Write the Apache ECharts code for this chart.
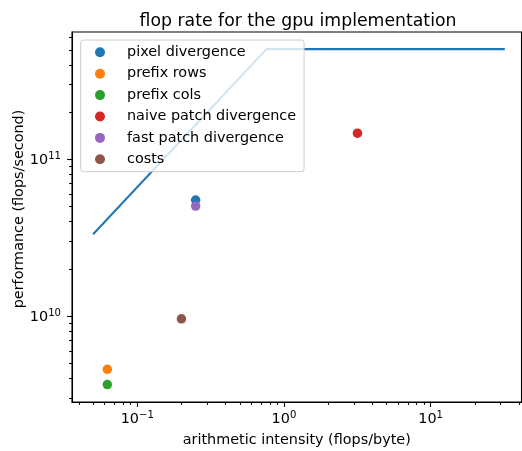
<!DOCTYPE html>
<html>
<head>
<meta charset="utf-8">
<script src="https://cdn.jsdelivr.net/npm/echarts@6/dist/echarts.min.js"></script>
<style>html,body{margin:0;padding:0;background:#fff}#c{width:522px;height:451px}</style>
</head>
<body>
<div id="c"></div>
<script>
// ---- data ----
const seriesNames = ['pixel divergence', 'prefix rows', 'prefix cols', 'naive patch divergence', 'fast patch divergence', 'costs'];
const intensity = [0.25, 0.0625, 0.0625, 3.17, 0.25, 0.2];
const performance = [5.5e10, 4.57e9, 3.65e9, 1.47e11, 5.04e10, 9.6e9];
const colors = ['#1f77b4', '#ff7f0e', '#2ca02c', '#d62728', '#9467bd', '#8c564b'];
const rooflineX = [0.05, 0.76, 32];
const rooflineY = [3.33e10, 5.06e11, 5.06e11];
const xMajorTicks = [0.1, 1, 10];
const xMinorTicks = [0.04, 0.05, 0.06, 0.07, 0.08, 0.09, 0.2, 0.3, 0.4, 0.5, 0.6, 0.7, 0.8, 0.9, 2, 3, 4, 5, 6, 7, 8, 9, 20, 30, 40];
const yMajorTicks = [1e10, 1e11];
const yMinorTicks = [3e9, 4e9, 5e9, 6e9, 7e9, 8e9, 9e9, 2e10, 3e10, 4e10, 5e10, 6e10, 7e10, 8e10, 9e10, 2e11, 3e11, 4e11, 5e11, 6e11];
const xRange = [0.0359, 41.6];
const yRange = [2.825e9, 6.51e11];

const FONT = 'DejaVu Sans';
const FS = 14.4;
function powLabel(v) {
  const e = Math.round(Math.log10(v));
  return '{b|10}{s|' + (e < 0 ? '\u2212' + (-e) : String(e)) + '}';
}
const richLabel = {
  b: {fontFamily: FONT, fontSize: FS, lineHeight: 16, verticalAlign: 'bottom', color: '#000'},
  s: {fontFamily: FONT, fontSize: 10.1, lineHeight: 11, verticalAlign: 'top', color: '#000'}
};
const tickStyle = {color: '#000', width: 1.1};

const chart = echarts.init(document.getElementById('c'), null, {renderer: 'canvas'});
const xBase = {type: 'log', logBase: 10, min: xRange[0], max: xRange[1], gridIndex: 0, position: 'bottom', splitLine: {show: false}};
const yBase = {type: 'log', logBase: 10, min: yRange[0], max: yRange[1], gridIndex: 0, position: 'left', splitLine: {show: false}};

chart.setOption({
  animation: false,
  textStyle: {fontFamily: FONT},
  title: {
    text: 'flop rate for the gpu implementation',
    left: 293, top: 8, textAlign: 'center',
    textStyle: {fontFamily: FONT, fontSize: 17.3, fontWeight: 'normal', color: '#000'}
  },
  grid: {left: 72, top: 32, width: 449.5, height: 370, containLabel: false, outerBoundsMode: 'none',
         show: true, borderColor: '#000', borderWidth: 1.1, backgroundColor: 'transparent'},
  legend: {
    orient: 'vertical', left: 80.7, top: 40,
    data: seriesNames,
    icon: 'circle', itemWidth: 10, itemHeight: 10, itemGap: 5.4,
    padding: [4.3, 8, 4.4, 14.3],
    borderColor: '#cccccc', borderWidth: 1, borderRadius: 3,
    backgroundColor: 'rgba(255,255,255,0.8)',
    textStyle: {fontFamily: FONT, fontSize: FS, lineHeight: 16, color: '#000', padding: [0, 0, 0, 17]}
  },
  xAxis: [
    Object.assign({}, xBase, {
      name: 'arithmetic intensity (flops/byte)', nameLocation: 'middle', nameGap: 31, nameMoveOverlap: false,
      nameTextStyle: {fontFamily: FONT, fontSize: FS, color: '#000'},
      axisLine: {show: true, lineStyle: tickStyle},
      axisTick: {show: true, length: 4.9, lineStyle: tickStyle, customValues: xMajorTicks},
      axisLabel: {show: true, margin: 8.5, color: '#000', customValues: xMajorTicks, formatter: powLabel, rich: richLabel}
    }),
    Object.assign({}, xBase, {
      axisLine: {show: false},
      axisTick: {show: true, length: 2.8, lineStyle: tickStyle, customValues: xMinorTicks},
      axisLabel: {show: false}
    })
  ],
  yAxis: [
    Object.assign({}, yBase, {
      name: 'performance (flops/second)', nameLocation: 'middle', nameGap: 46, nameMoveOverlap: false,
      nameTextStyle: {fontFamily: FONT, fontSize: FS, color: '#000', padding: [0, 0, 0, 16]},
      axisLine: {show: true, lineStyle: tickStyle},
      axisTick: {show: true, length: 4.9, lineStyle: tickStyle, customValues: yMajorTicks},
      axisLabel: {show: true, margin: 11, color: '#000', customValues: yMajorTicks, formatter: powLabel, rich: richLabel}
    }),
    Object.assign({}, yBase, {
      axisLine: {show: false},
      axisTick: {show: true, length: 2.8, lineStyle: tickStyle, customValues: yMinorTicks},
      axisLabel: {show: false}
    })
  ],
  series: [
    {
      type: 'line', name: 'roofline', xAxisIndex: 0, yAxisIndex: 0,
      data: rooflineX.map((x, i) => [x, rooflineY[i]]),
      showSymbol: false, symbol: 'none',
      lineStyle: {color: colors[0], width: 2.1}, z: 2
    }
  ].concat(seriesNames.map((n, i) => ({
    type: 'scatter', name: n, xAxisIndex: 0, yAxisIndex: 0,
    data: [[intensity[i], performance[i]]],
    symbol: 'circle', symbolSize: 9.5,
    itemStyle: {color: colors[i], opacity: 1}, z: 3
  })))
});
</script>
</body>
</html>
